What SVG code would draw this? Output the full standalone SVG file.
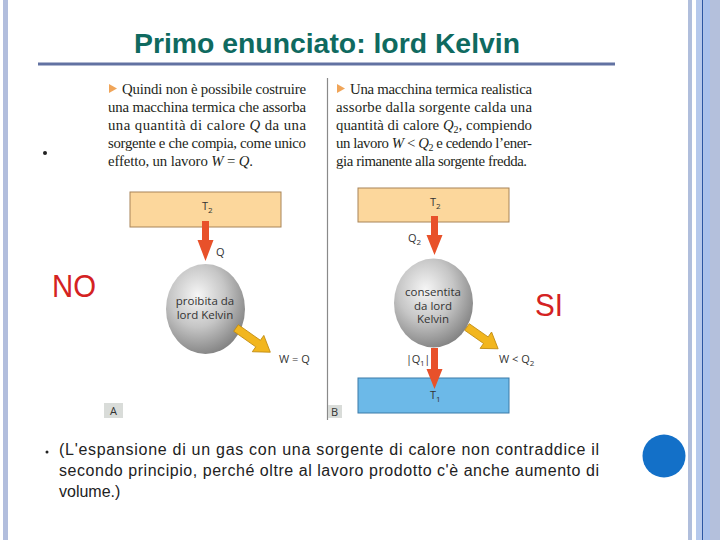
<svg xmlns="http://www.w3.org/2000/svg" width="720" height="540" viewBox="0 0 720 540">
<defs>
<radialGradient id="sph" cx="0.4" cy="0.35" r="0.7">
<stop offset="0" stop-color="#f6f6f6"/>
<stop offset="0.5" stop-color="#c6c6c6"/>
<stop offset="1" stop-color="#7e7e7e"/>
</radialGradient>
<style>
.serif{font-family:"Liberation Serif","Times New Roman",serif;font-size:14.8px;fill:#231f20}
.sans{font-family:"Open Sans","Liberation Sans",sans-serif;fill:#333}
.lbl{font-size:11px}
.body{font-family:"Liberation Sans",Arial,sans-serif;font-size:16px;fill:#222}
.big{font-family:"Liberation Sans",Arial,sans-serif;font-size:32px;fill:#d42222}
.it{font-style:italic}
.red{fill:#e8512a}
.yel{fill:#f2b61e;stroke:#c08a10;stroke-width:0.8}
.tri{fill:#f0a559}
</style>
</defs>
<rect width="720" height="540" fill="#ffffff"/>
<!-- side stripes -->
<rect x="3" y="0" width="5" height="540" fill="#b2bedd"/>
<rect x="688" y="0" width="4" height="540" fill="#b0bedc"/>
<rect x="696" y="0" width="6" height="540" fill="#b6c9ec"/>
<rect x="702" y="0" width="1.3" height="540" fill="#2a56a4"/>
<rect x="703.3" y="0" width="7" height="540" fill="#a9c1ec"/>
<rect x="710" y="0" width="10" height="540" fill="#b4c0dc"/>
<!-- title -->
<g id="title">
<text x="134" y="53" font-family="'Liberation Sans Narrow','Liberation Sans',Arial,sans-serif" font-weight="bold" font-size="28" fill="#0f6a60" textLength="386" lengthAdjust="spacingAndGlyphs">Primo enunciato: lord Kelvin</text>
<rect x="38" y="62.5" width="577" height="3" fill="#6272a2"/>
</g>
<!-- separator -->
<line x1="327.5" y1="78" x2="327.5" y2="420" stroke="#8a8a8a" stroke-width="1.2"/>
<!-- bullet -->
<circle cx="45" cy="153" r="2" fill="#222"/>
<!-- left text -->
<g id="textA">
<polygon class="tri" points="109,84 117,88.5 109,93"/>
<text class="serif" x="122" y="94" textLength="184" lengthAdjust="spacing">Quindi non è possibile costruire</text>
<text class="serif" x="108" y="112" textLength="198" lengthAdjust="spacing">una macchina termica che assorba</text>
<text class="serif" x="108" y="130" textLength="198" lengthAdjust="spacing">una quantità di calore <tspan class="it">Q</tspan> da una</text>
<text class="serif" x="108" y="148" textLength="198" lengthAdjust="spacing">sorgente e che compia, come unico</text>
<text class="serif" x="108" y="166" textLength="145" lengthAdjust="spacing">effetto, un lavoro <tspan class="it">W</tspan> = <tspan class="it">Q</tspan>.</text>
</g>
<!-- right text -->
<g id="textB">
<polygon class="tri" points="337,84 345,88.5 337,93"/>
<text class="serif" x="350" y="94" textLength="182" lengthAdjust="spacing">Una macchina termica realistica</text>
<text class="serif" x="336" y="112" textLength="196" lengthAdjust="spacing">assorbe dalla sorgente calda una</text>
<text class="serif" x="336" y="130" textLength="196" lengthAdjust="spacing">quantità di calore <tspan class="it">Q</tspan><tspan font-size="10" dy="3">2</tspan><tspan dy="-3">, compiendo</tspan></text>
<text class="serif" x="336" y="148" textLength="196" lengthAdjust="spacing">un lavoro <tspan class="it">W</tspan> &lt; <tspan class="it">Q</tspan><tspan font-size="10" dy="3">2</tspan><tspan dy="-3"> e cedendo l’ener-</tspan></text>
<text class="serif" x="336" y="166" textLength="191" lengthAdjust="spacing">gia rimanente alla sorgente fredda.</text>
</g>
<!-- diagram A -->
<g id="hotA">
<rect x="130" y="192" width="151" height="35" fill="#fcd79c" stroke="#a88458" stroke-width="1"/>
<text class="sans lbl" x="202" y="210">T<tspan font-size="8" dy="3">2</tspan></text>
</g>
<g id="engineA">
<ellipse cx="205.5" cy="309" rx="39.5" ry="45" fill="url(#sph)"/>
<text class="sans" font-size="11.5" text-anchor="middle" x="205" y="305">proibita da</text>
<text class="sans" font-size="11.5" text-anchor="middle" x="205" y="319">lord Kelvin</text>
</g>
<g id="tagA">
<rect x="104" y="403" width="19" height="15" fill="#d9dcd9"/>
<text class="sans" font-size="11" x="110" y="415">A</text>
</g>
<text class="big" x="52" y="297" textLength="44" lengthAdjust="spacingAndGlyphs">NO</text>
<!-- diagram B -->
<g id="hotB">
<rect x="358" y="188" width="151" height="34" fill="#fcd79c" stroke="#a88458" stroke-width="1"/>
<text class="sans lbl" x="430" y="206">T<tspan font-size="8" dy="3">2</tspan></text>
</g>
<g id="engineB">
<ellipse cx="433.5" cy="303" rx="39.5" ry="44.5" fill="url(#sph)"/>
<text class="sans" font-size="11.5" text-anchor="middle" x="433" y="296">consentita</text>
<text class="sans" font-size="11.5" text-anchor="middle" x="433" y="309.5">da lord</text>
<text class="sans" font-size="11.5" text-anchor="middle" x="433" y="323">Kelvin</text>
</g>
<g id="coldB">
<rect x="358" y="378" width="151" height="35" fill="#6cb9e8" stroke="#3b7aa8" stroke-width="1"/>
<text class="sans lbl" x="430" y="399">T<tspan font-size="8" dy="3">1</tspan></text>
</g>
<g id="tagB">
<rect x="328" y="405" width="14" height="13" fill="#d9dcd9"/>
<text class="sans" font-size="11" x="331" y="416">B</text>
</g>
<text class="big" x="535" y="316" textLength="28" lengthAdjust="spacingAndGlyphs">SI</text>
<!-- connectors -->
<g id="connectors">
<polygon class="red" points="202,221 209,221 209,240 213.5,240 205.5,261 197.5,240 202,240"/>
<g transform="translate(236,328) rotate(35.2)">
<polygon class="yel" points="0,-4 27,-4 27,-10 42,0 27,10 27,4 0,4"/>
</g>
<polygon class="red" points="431,216 438,216 438,235 442.5,235 434.5,255 426.5,235 431,235"/>
<polygon class="red" points="431,348 438,348 438,369 442.5,369 434.5,389 426.5,369 431,369"/>
<g transform="translate(467,327) rotate(35)">
<polygon class="yel" points="0,-4 23,-4 23,-10 38,0 23,10 23,4 0,4"/>
</g>
</g>
<g id="labels" class="sans">
<text font-size="11" x="216" y="256">Q</text>
<text font-size="11" x="279" y="363">W = Q</text>
<text font-size="11" x="408" y="242">Q<tspan font-size="8" dy="3">2</tspan></text>
<text font-size="11" x="406" y="363" letter-spacing="-0.3">|Q<tspan font-size="8" dy="3">1</tspan><tspan dy="-3">|</tspan></text>
<text font-size="11" x="499" y="363">W &lt; Q<tspan font-size="8" dy="3">2</tspan></text>
</g>
<!-- bottom text -->
<g id="note">
<circle cx="47" cy="452" r="1.5" fill="#222"/>
<text class="body" x="59" y="455" textLength="540" lengthAdjust="spacing">(L'espansione di un gas con una sorgente di calore non contraddice il</text>
<text class="body" x="59" y="476" textLength="540" lengthAdjust="spacing">secondo principio, perché oltre al lavoro prodotto c'è anche aumento di</text>
<text class="body" x="59" y="497">volume.)</text>
</g>
<circle cx="664" cy="456" r="21.5" fill="#1370c8"/>
</svg>
